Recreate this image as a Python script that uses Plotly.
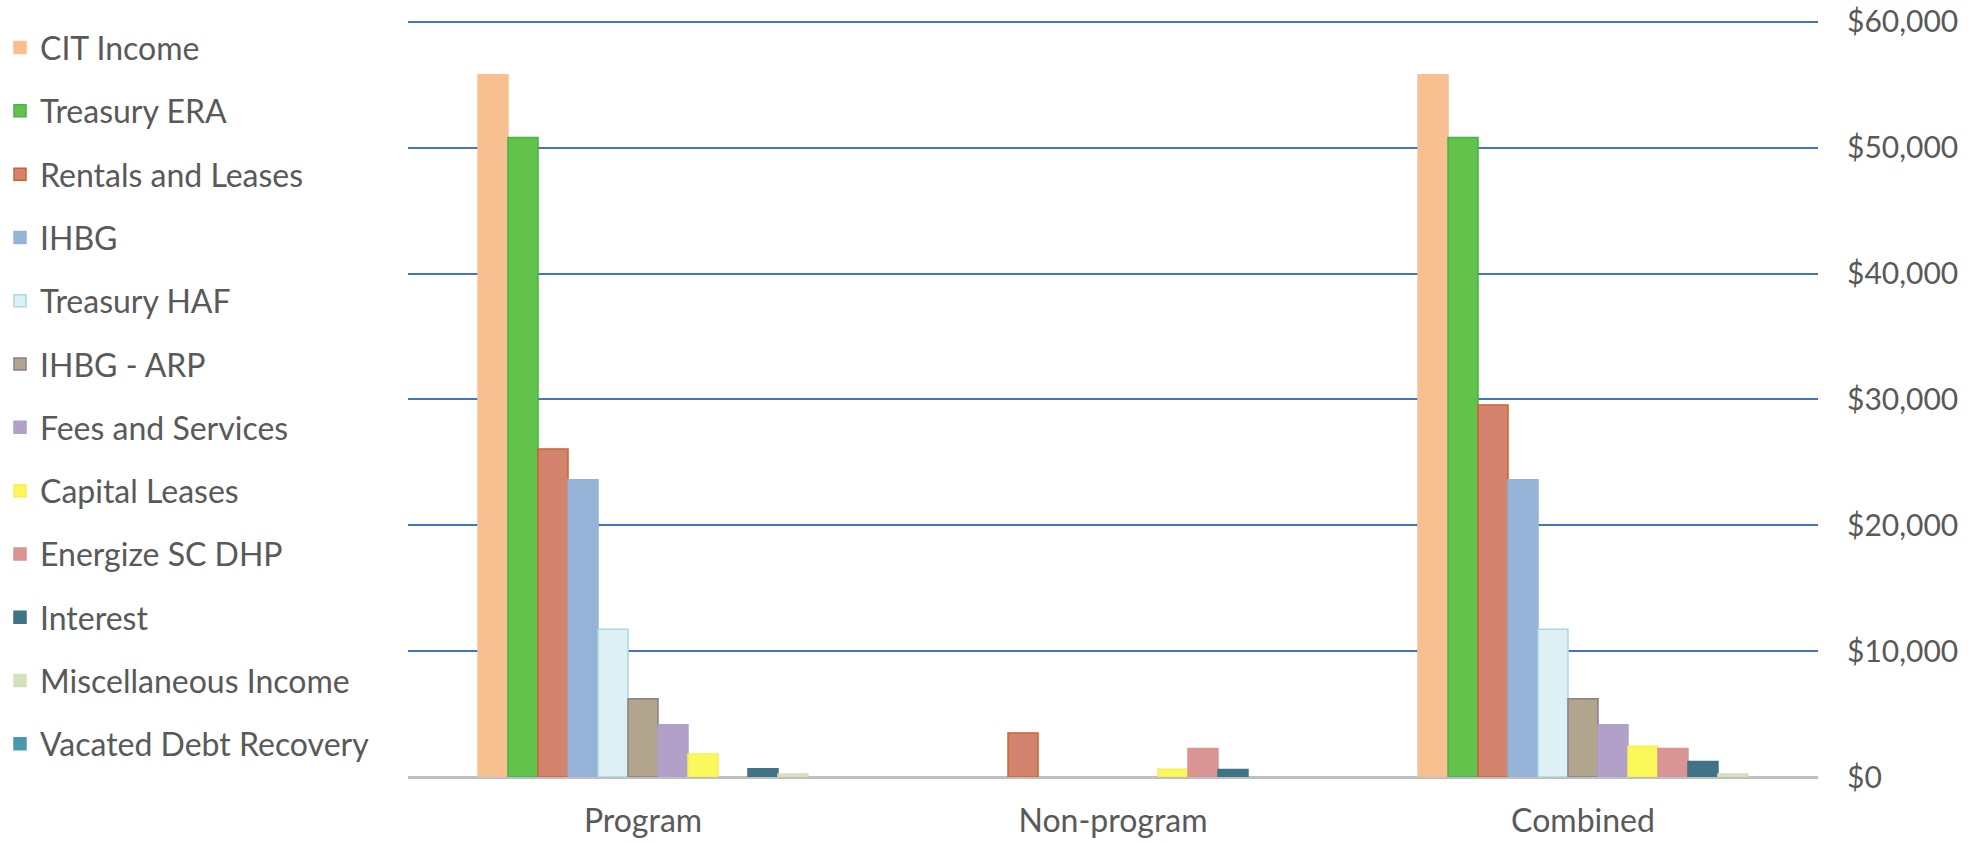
import plotly.graph_objects as go

categories = ["Program", "Non-program", "Combined"]

series_names = [
    "CIT Income", "Treasury ERA", "Rentals and Leases", "IHBG", "Treasury HAF",
    "IHBG - ARP", "Fees and Services", "Capital Leases", "Energize SC DHP",
    "Interest", "Miscellaneous Income", "Vacated Debt Recovery",
]

cit_income = [55800, 0, 55800]
treasury_era = [50800, 0, 50800]
rentals_leases = [26060, 3500, 29560]
ihbg = [23620, 0, 23620]
treasury_haf = [11730, 0, 11730]
ihbg_arp = [6210, 0, 6210]
fees_services = [4150, 0, 4150]
capital_leases = [1830, 620, 2450]
energize_sc = [0, 2260, 2260]
interest = [650, 590, 1240]
misc_income = [230, 0, 230]
vacated_debt = [0, 0, 0]

values = [cit_income, treasury_era, rentals_leases, ihbg, treasury_haf, ihbg_arp,
          fees_services, capital_leases, energize_sc, interest, misc_income, vacated_debt]

fills = ["#F8C090", "#62C24C", "#D4846E", "#95B3D7", "#DDF1F5", "#B1A68D",
         "#B1A0C8", "#FAF85A", "#D99594", "#3F7385", "#D3E2BB", "#4A98AD"]
lines = ["#F8C090", "#45B545", "#C8652F", "#95B3D7", "#A9D8E4", "#8C7D8B",
         "#B1A0C8", "#F5F050", "#D99594", "#3F7385", "#D3E2BB", "#4A98AD"]

FONT = "Lato"
TXT = "#595959"

fig = go.Figure()
for i, (name, vals) in enumerate(zip(series_names, values)):
    on_hidden = (i == len(series_names) - 1)
    fig.add_trace(go.Bar(
        name=name, x=categories,
        y=[v if v != 0 else None for v in vals],
        marker=dict(color=fills[i], line=dict(color=lines[i], width=1.5)),
        legendgroup=f"g{i}",
        xaxis="x2" if on_hidden else "x",
    ))

fig.update_layout(
    width=1975, height=843,
    margin=dict(l=408, r=157, t=18, b=66, autoexpand=False),
    paper_bgcolor="white", plot_bgcolor="white",
    barmode="group", bargap=0.298, bargroupgap=0,
    font=dict(family=FONT, size=30, color=TXT),
    showlegend=True,
    legend=dict(
        xref="container", yref="container", x=0.0, y=0.976,
        xanchor="left", yanchor="top",
        font=dict(family=FONT, size=32, color=TXT),
        tracegroupgap=18.7, itemwidth=30,
        bgcolor="rgba(0,0,0,0)",
        traceorder="grouped",
        maxheight=843,
    ),
    xaxis=dict(
        type="category", categoryorder="array", categoryarray=categories,
        showgrid=False, showline=False, zeroline=False, ticks="",
        ticklabelstandoff=22, automargin=False,
        tickfont=dict(family=FONT, size=32, color=TXT),
    ),
    xaxis2=dict(
        type="category", categoryorder="array", categoryarray=categories,
        overlaying="x", visible=False, matches="x",
    ),
    yaxis=dict(
        side="right", range=[0, 60300], dtick=10000,
        tickprefix="$", tickformat=",",
        showgrid=True, gridcolor="#4472C4", gridwidth=1.5,
        zeroline=True, zerolinecolor="#BFBFBF", zerolinewidth=3,
        showline=False, ticks="", automargin=False,
        ticklabelstandoff=28,
        tickfont=dict(family=FONT, size=30, color=TXT),
    ),
)

fig.write_html("out.html")
